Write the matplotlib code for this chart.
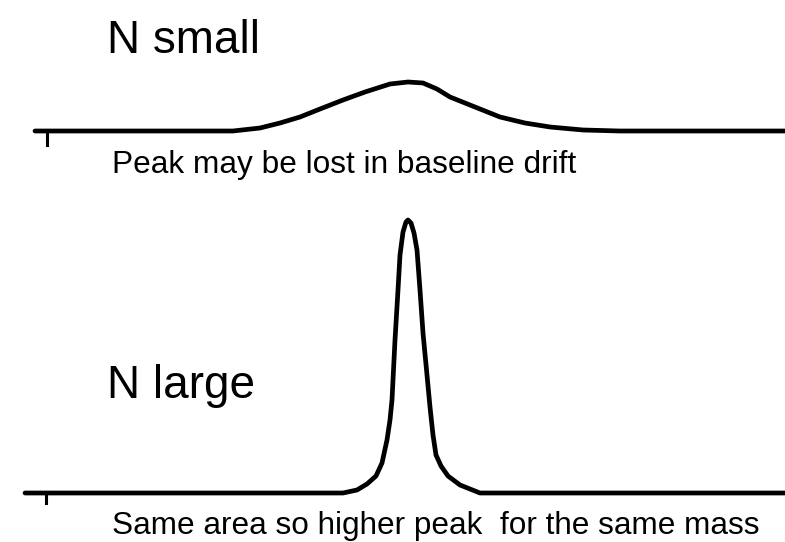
import numpy as np
import matplotlib
matplotlib.use("Agg")
import matplotlib.pyplot as plt

plt.rcParams['font.family'] = ['Liberation Sans', 'DejaVu Sans']

# broad peak (N small), traced in image pixels
small_x = [35, 233, 260, 280, 300, 320, 343, 365, 390, 408, 423, 437, 450, 475, 500, 525, 550, 583, 620, 785]
small_y = [131, 131, 128, 123, 117, 109, 100, 92, 84, 82, 83, 89, 97, 107, 117, 123, 127, 130, 131, 131]

# narrow peak (N large)
large_x = [25, 343, 357, 367, 376, 382, 387, 390, 392, 395, 398, 400, 403, 406, 408,
           411, 414, 417, 420, 423, 427, 430, 433, 436, 441, 448, 460, 480, 785]
large_y = [493, 493, 490, 484, 476, 463, 440, 420, 400, 340, 290, 255, 232, 222, 220,
           223, 233, 250, 290, 333, 375, 407, 435, 455, 466, 476, 485, 493, 493]

W, H = 785, 542
fig = plt.figure(figsize=(W / 100, H / 100), dpi=100)
ax = fig.add_axes([0, 0, 1, 1])
ax.set_xlim(0, W)
ax.set_ylim(H, 0)
ax.axis('off')

lw = 3.4
kw = dict(color='black', lw=lw, solid_capstyle='round', solid_joinstyle='round')
ax.plot(small_x, small_y, **kw)
ax.plot(large_x, large_y, **kw)

# little ticks under the baselines
ax.plot([47, 47], [small_y[0], 145], color='black', lw=2.2)
ax.plot([46, 46], [large_y[0], 503], color='black', lw=2.2)

ax.text(107, 53, "N small", fontsize=33, va='baseline', ha='left')
ax.text(107, 398, "N large", fontsize=33, va='baseline', ha='left')
ax.text(112, 173, "Peak may be lost in baseline drift", fontsize=22.8, va='baseline', ha='left')
ax.text(112, 534, "Same area so higher peak  for the same mass", fontsize=22.7, va='baseline', ha='left')

fig.savefig("out.png", dpi=100)
